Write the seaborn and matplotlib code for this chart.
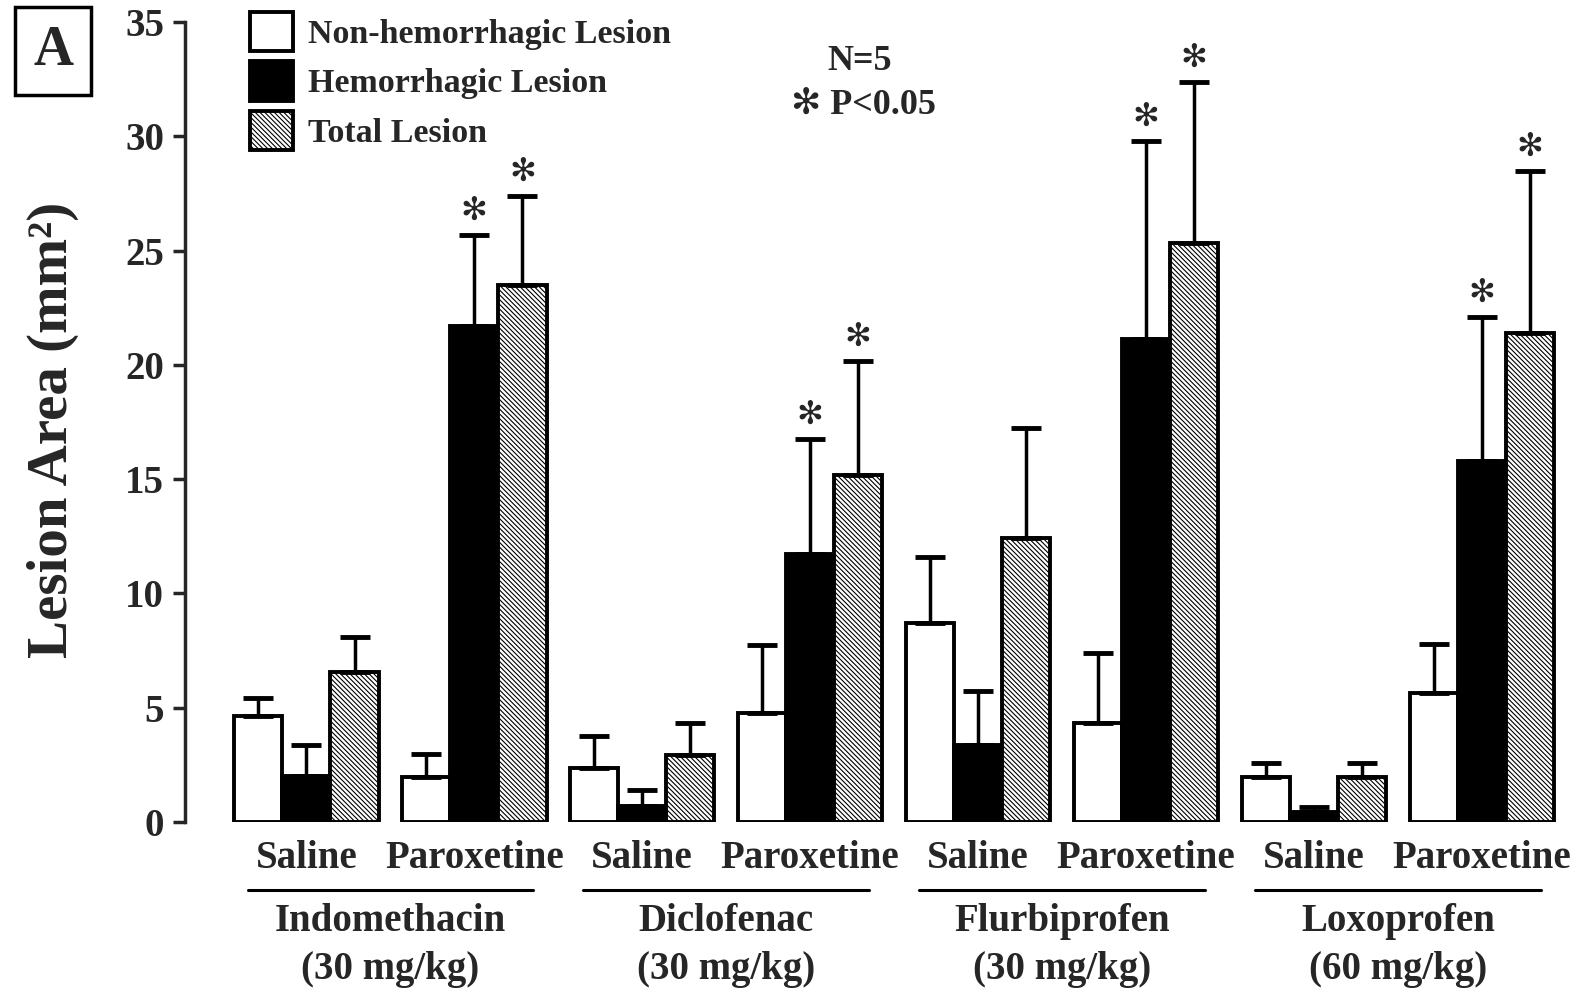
import numpy as np
import pandas as pd
import matplotlib
matplotlib.use("Agg")
import matplotlib.pyplot as plt
import seaborn as sns

# ---------------- data ----------------
drugs = ["Indomethacin", "Diclofenac", "Flurbiprofen", "Loxoprofen"]
doses = ["(30 mg/kg)", "(30 mg/kg)", "(30 mg/kg)", "(60 mg/kg)"]
treatments = ["Saline", "Paroxetine"]
lesion_types = ["Non-hemorrhagic Lesion", "Hemorrhagic Lesion", "Total Lesion"]

# order: Indo Sal, Indo Par, Diclo Sal, Diclo Par, Flurbi Sal, Flurbi Par, Loxo Sal, Loxo Par
non_hem_mean = [4.65, 1.95, 2.35, 4.78, 8.72, 4.34, 1.95, 5.66]
non_hem_sem = [0.79, 1.01, 1.41, 2.96, 2.88, 3.05, 0.62, 2.13]
hem_mean = [2.0, 21.7, 0.7, 11.73, 3.36, 21.15, 0.44, 15.8]
hem_sem = [1.36, 4.0, 0.72, 5.04, 2.39, 8.65, 0.22, 6.28]
total_mean = [6.55, 23.5, 2.92, 15.18, 12.43, 25.35, 1.95, 21.42]
total_sem = [1.55, 3.9, 1.42, 5.0, 4.83, 7.05, 0.62, 7.08]
hem_sig = [0, 1, 0, 1, 0, 1, 0, 1]
total_sig = [0, 1, 0, 1, 0, 1, 0, 1]

y_ticks = [0, 5, 10, 15, 20, 25, 30, 35]

# ---------------- build table ----------------
conds = [f"{d}|{t}" for d in drugs for t in treatments]
rows = []
for lt, means in zip(lesion_types, [non_hem_mean, hem_mean, total_mean]):
    for c, m in zip(conds, means):
        rows.append({"cond": c, "lesion": lt, "value": m})
df = pd.DataFrame(rows)
sems = [non_hem_sem, hem_sem, total_sem]
sigs = [None, hem_sig, total_sig]

# ---------------- style ----------------
sns.set_style("ticks")
plt.rcParams["font.family"] = ["Liberation Serif", "DejaVu Sans"]
plt.rcParams["font.weight"] = "bold"
plt.rcParams["hatch.linewidth"] = 0.8
plt.rcParams["hatch.color"] = "black"

fig = plt.figure(figsize=(15.85, 9.92), dpi=100)
ax = fig.add_axes([0.1167, 0.1714, 0.8833, 0.8062])

sns.barplot(data=df, x="cond", y="value", hue="lesion", order=conds,
            hue_order=lesion_types, palette=["white", "black", "white"],
            edgecolor="black", linewidth=2.8, width=0.86, errorbar=None,
            legend=False, ax=ax, saturation=1)

bar_conts = list(ax.containers[:3])
for p in bar_conts[2]:
    p.set_hatch("\\\\\\\\\\\\\\")

# error bars and stars
for i, cont in enumerate(bar_conts):
    xs = [p.get_x() + p.get_width() / 2 for p in cont]
    ys = [p.get_height() for p in cont]
    ax.errorbar(xs, ys, yerr=[np.zeros(len(xs)), sems[i]], fmt="none",
                ecolor="black", elinewidth=2.5, capsize=11, capthick=3.5,
                zorder=1)
    if sigs[i] is not None:
        for x, y, e, s in zip(xs, ys, sems[i], sigs[i]):
            if s:
                ax.annotate("✻", (x, y + e), xytext=(0, 6),
                            textcoords="offset points", ha="center",
                            va="bottom", fontsize=23, family="DejaVu Sans")

ax.set_xlim(-0.723, 7.614)
ax.set_ylim(0, 35)
ax.set_yticks(y_ticks)
ax.set_yticklabels([str(t) for t in y_ticks], fontsize=28, fontweight="bold")
ax.set_xticks(range(len(conds)))
ax.set_xticklabels([c.split("|")[1] for c in conds], fontsize=28,
                   fontweight="bold")
ax.tick_params(axis="x", length=0, pad=13)
ax.tick_params(axis="y", length=9, width=2.5, pad=6)
sns.despine(ax=ax, bottom=True)
ax.spines["left"].set_linewidth(2.5)
ax.set_xlabel("")
ax.set_ylabel("Lesion Area (mm²)", fontsize=41, fontweight="bold")
ax.yaxis.set_label_coords(-0.076, 0.49)

# group labels below
trans = ax.get_xaxis_transform()
for g, (d, dose) in enumerate(zip(drugs, doses)):
    cx = 2 * g + 0.5
    ax.plot([cx - 0.85, cx + 0.85], [-0.085, -0.085], color="black", lw=2.2,
            transform=trans, clip_on=False)
    ax.text(cx, -0.124, d, transform=trans, ha="center", va="center",
            fontsize=28, fontweight="bold")
    ax.text(cx, -0.184, dose, transform=trans, ha="center", va="center",
            fontsize=28, fontweight="bold")

# legend
handles = [c[0] for c in bar_conts]
leg = ax.legend(handles, lesion_types, loc="upper left",
                bbox_to_anchor=(0.1577, 0.988), bbox_transform=fig.transFigure,
                frameon=False, fontsize=24.5, handlelength=1.26,
                handleheight=1.41, labelspacing=0.29, handletextpad=0.45,
                borderpad=0, borderaxespad=0)
for t in leg.get_texts():
    t.set_fontweight("bold")

# annotations
fig.text(860 / 1585, 1 - 61 / 992, "N=5", ha="center", va="center",
         fontsize=26, fontweight="bold")
fig.text(791 / 1585, 1 - 105 / 992, "✻ P<0.05", ha="left", va="center",
         fontsize=26, fontweight="bold",
         family=["Liberation Serif", "DejaVu Sans"])
fig.text(53 / 1585, 1 - 51 / 992, "A", ha="center", va="center",
         fontsize=40, fontweight="bold",
         bbox=dict(boxstyle="square,pad=0.33", fc="white", ec="black", lw=2.5))

fig.savefig("out.png", dpi=100)
